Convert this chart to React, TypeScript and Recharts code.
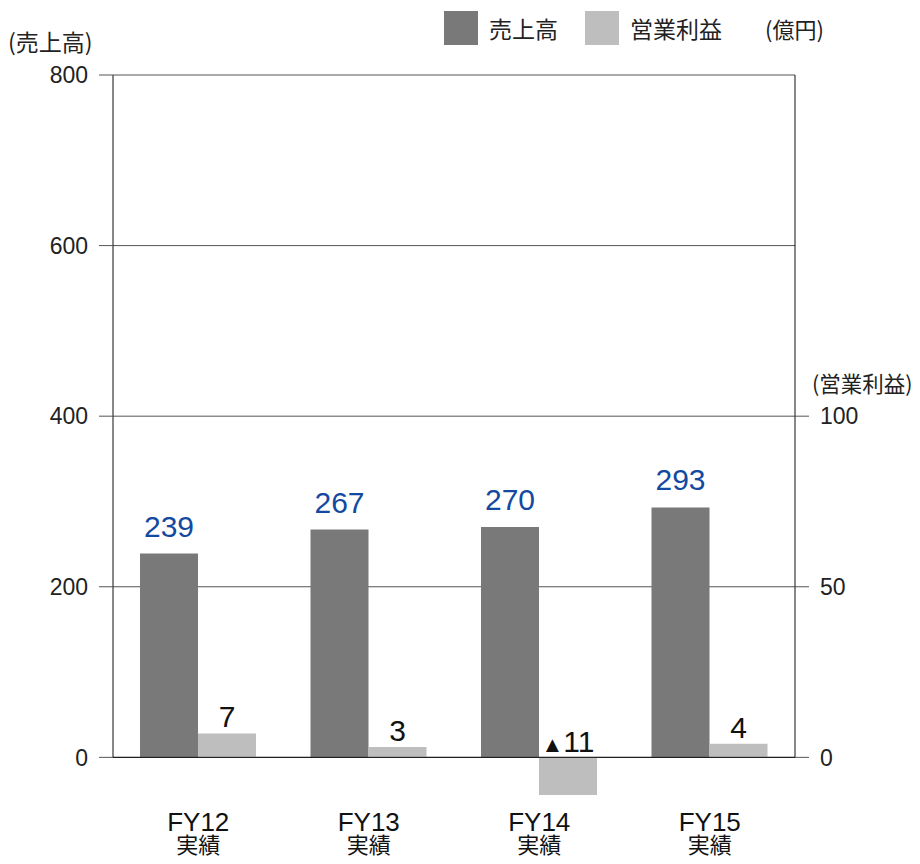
import React from "react";
import { BarChart, Bar, XAxis, YAxis, CartesianGrid, ReferenceLine, LabelList } from "recharts";

const categories = ["FY12", "FY13", "FY14", "FY15"];
const subLabel = "実績";
const sales = [239, 267, 270, 293];
const profit = [7, 3, -11, 4];
const salesTicks = [0, 200, 400, 600, 800];
const profitTicks = [0, 50, 100];

const data = categories.map((name, i) => ({ name, sales: sales[i], profit: profit[i] }));
const lastIdx = categories.length - 1;

const FONT = "'Liberation Sans', 'Noto Sans CJK JP', sans-serif";
const JP = "'Noto Sans CJK JP', 'Liberation Sans', sans-serif";
const DARK = "#787978";
const LIGHT = "#bebebe";
const BLUE = "#1349a0";

const CategoryTick = (props: any) => {
    const { x, y, payload } = props;
    return (
        <text x={x} y={y} textAnchor="middle" fill="#111">
            <tspan x={x} dy={31} fontSize={26} fontFamily={FONT}>
                {payload.value}
            </tspan>
            <tspan x={x} dy={22} fontSize={22} fontFamily={JP}>
                {subLabel}
            </tspan>
        </text>
    );
};

const ProfitLabel = (props: any) => {
    const { x, y, width, height, value } = props;
    const top = Math.min(y, y + height);
    const cx = x + width / 2;
    if (value < 0) {
        return (
            <text x={cx} y={top - 5} textAnchor="middle" fontSize={30} fill="#111" fontFamily={FONT}>
                <tspan fontSize={22}>▲</tspan>
                <tspan>{Math.abs(value)}</tspan>
            </text>
        );
    }
    return (
        <text x={cx} y={top - 6} textAnchor="middle" fontSize={30} fill="#111" fontFamily={FONT}>
            {value}
        </text>
    );
};

const legendText: React.CSSProperties = {
    position: "absolute",
    fontSize: 23,
    lineHeight: "34px",
    fontFamily: JP,
    color: "#222",
    whiteSpace: "nowrap",
};

const App = () => {
    return (
        <div style={{ position: "relative", width: 904, height: 848 }}>
            <BarChart
                width={904}
                height={848}
                data={data}
                barSize={58}
                barGap={0}
                margin={{ top: 67, right: 0, left: 0, bottom: 0 }}
            >
                <CartesianGrid yAxisId="left" vertical={false} stroke="#555" syncWithTicks />
                <XAxis
                    dataKey="name"
                    height={56}
                    axisLine={false}
                    tickLine={false}
                    tickSize={0}
                    tickMargin={0}
                    tick={<CategoryTick />}
                />
                <XAxis xAxisId="frame" type="number" domain={[0, lastIdx]} allowDataOverflow hide />
                <YAxis
                    yAxisId="left"
                    width={105}
                    domain={[-50, 800]}
                    ticks={salesTicks}
                    axisLine={false}
                    tickSize={14}
                    tickMargin={11}
                    tickLine={{ stroke: "#555" }}
                    tick={{ fontSize: 23, fill: "#222", fontFamily: FONT }}
                />
                <YAxis
                    yAxisId="right"
                    orientation="right"
                    width={117}
                    domain={[-12.5, 200]}
                    ticks={profitTicks}
                    axisLine={false}
                    tickSize={14}
                    tickMargin={11}
                    tickLine={{ stroke: "#555" }}
                    tick={{ fontSize: 23, fill: "#222", fontFamily: FONT }}
                />
                <ReferenceLine
                    xAxisId="frame"
                    yAxisId="left"
                    segment={[{ x: 0, y: 0 }, { x: 0, y: 800 }]}
                    stroke="#111"
                />
                <ReferenceLine
                    xAxisId="frame"
                    yAxisId="left"
                    segment={[{ x: lastIdx, y: 0 }, { x: lastIdx, y: 800 }]}
                    stroke="#111"
                />
                <Bar yAxisId="left" dataKey="sales" fill={DARK} isAnimationActive={false}>
                    <LabelList
                        dataKey="sales"
                        position="top"
                        offset={17}
                        fill={BLUE}
                        fontSize={30}
                        fontFamily={FONT}
                    />
                </Bar>
                <Bar yAxisId="right" dataKey="profit" fill={LIGHT} isAnimationActive={false}>
                    <LabelList dataKey="profit" content={<ProfitLabel />} />
                </Bar>
                <ReferenceLine yAxisId="left" y={0} stroke="#111" />
            </BarChart>

            {/* legend + unit labels */}
            <div style={{ position: "absolute", left: 436, top: 3, width: 34, height: 34, background: DARK }} />
            <div style={{ ...legendText, left: 481, top: 3 }}>売上高</div>
            <div style={{ position: "absolute", left: 577, top: 3, width: 34, height: 34, background: LIGHT }} />
            <div style={{ ...legendText, left: 622, top: 3 }}>営業利益</div>
            <div style={{ ...legendText, left: 757, top: 3, fontSize: 22 }}>(億円)</div>
            <div style={{ ...legendText, left: 0, top: 16, fontSize: 23 }}>(売上高)</div>
            <div style={{ ...legendText, left: 804, top: 358, fontSize: 21.5 }}>(営業利益)</div>
        </div>
    );
};

export default App;
